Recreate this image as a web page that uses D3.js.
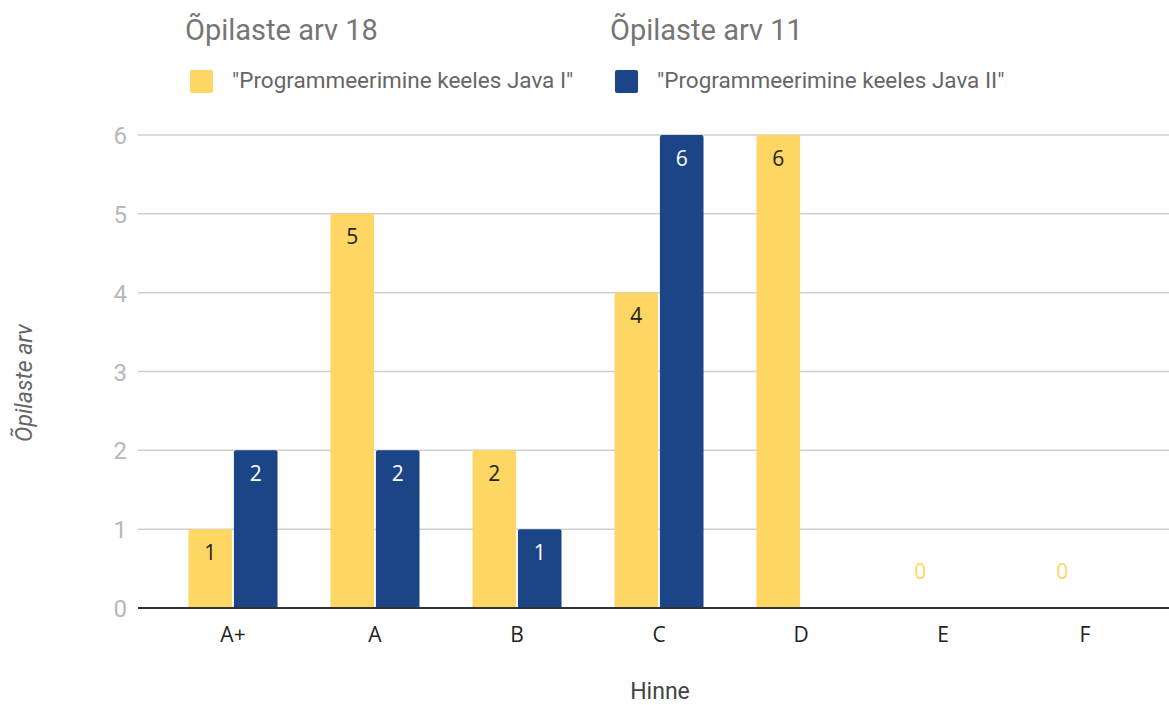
<!DOCTYPE html>
<html><head><meta charset="utf-8">
<script src="https://cdn.jsdelivr.net/npm/d3@7"></script>
<style>body{margin:0;background:#fff;} text{font-family:Roboto,"Noto Sans",sans-serif;}</style>
</head><body><svg id="c" width="1169" height="705"></svg>
<script>
const categories = ["A+","A","B","C","D","E","F"];
const seriesNames = ['"Programmeerimine keeles Java I"','"Programmeerimine keeles Java II"'];
const seriesTitles = ["Õpilaste arv 18","Õpilaste arv 11"];
const java1 = [1,5,2,4,6,0,0];
const java2 = [2,2,1,6,null,null,null];
const yTicks = [0,1,2,3,4,5,6];
const colors = ["#fdd663","#1c4587"];
const labelColors = ["#222","#fff"];

const svg = d3.select("#c");
const x = d3.scaleBand().domain(categories).range([162,1156]).paddingInner(0.373).paddingOuter(0.1865);
const xs = d3.scaleBand().domain([0,1]).range([0,x.bandwidth()]).paddingInner(0.04);
const y = d3.scaleLinear().domain([0,6]).range([608,135]);

// gridlines
svg.append("g").selectAll("line").data(yTicks.filter(d=>d>0)).join("line")
  .attr("x1",138).attr("x2",1169).attr("y1",d=>y(d)).attr("y2",d=>y(d))
  .attr("stroke","#cfcfcf").attr("stroke-width",1.5);

// y axis labels
const yAxis = d3.axisLeft(y).tickValues(yTicks).tickFormat(d3.format("d")).tickSize(0).tickPadding(0);
const ya = svg.append("g").attr("transform","translate(127,0)").call(yAxis);
ya.select(".domain").remove();
ya.selectAll("text").attr("fill","#b7b7b7").style("font-size","24px").style("font-family","Roboto").attr("dy","0.36em");

// bars
const series = [java1, java2];
series.forEach((vals, si) => {
  const g = svg.append("g");
  const data = categories.map((c,i)=>({c, v: vals[i]})).filter(d=>d.v!==null);
  g.selectAll("path").data(data.filter(d=>d.v>0)).join("path")
    .attr("fill", colors[si])
    .attr("d", d => {
      const x0 = x(d.c)+xs(si), w = xs.bandwidth(), y0 = y(d.v), y1 = y(0), r=2;
      return `M${x0},${y1}V${y0+r}Q${x0},${y0} ${x0+r},${y0}H${x0+w-r}Q${x0+w},${y0} ${x0+w},${y0+r}V${y1}Z`;
    });
  g.selectAll("text").data(data).join("text")
    .attr("x", d => x(d.c)+xs(si)+xs.bandwidth()/2)
    .attr("y", d => d.v>0 ? y(d.v)+23 : y(0)-37)
    .attr("dy","0.36em").attr("text-anchor","middle")
    .attr("fill", d => d.v>0 ? labelColors[si] : colors[si])
    .style("font-size","21px").style("font-family","'Open Sans',sans-serif")
    .text(d => d.v);
});

// baseline
svg.append("line").attr("x1",138).attr("x2",1169).attr("y1",y(0)).attr("y2",y(0))
  .attr("stroke","#333").attr("stroke-width",2);

// x axis
const xAxis = d3.axisBottom(x).tickSize(0).tickPadding(0);
const xa = svg.append("g").attr("transform",`translate(0,${y(0)+26})`).call(xAxis);
xa.select(".domain").remove();
xa.selectAll("text").attr("fill","#222").style("font-size","21px").style("font-family","'Open Sans',sans-serif").attr("dy","0.36em");

// axis titles
svg.append("text").attr("x",660).attr("y",691).attr("dy","0.36em").attr("text-anchor","middle")
  .attr("fill","#444").style("font-size","23px").text("Hinne");
svg.append("text").attr("transform","translate(24,383) rotate(-90)").attr("dy","0.36em")
  .attr("text-anchor","middle").attr("fill","#666").style("font-size","23px").style("font-style","italic")
  .text("Õpilaste arv");

// legend with titles
const legX = [185, 610];
seriesNames.forEach((n,i)=>{
  svg.append("text").attr("x",legX[i]).attr("y",30).attr("dy","0.36em")
    .attr("fill","#757575").style("font-size","29px").text(seriesTitles[i]);
  svg.append("rect").attr("x",legX[i]+5).attr("y",70).attr("width",23).attr("height",23).attr("rx",2)
    .attr("fill",colors[i]);
  svg.append("text").attr("x",legX[i]+47).attr("y",80).attr("dy","0.36em")
    .attr("fill","#666").style("font-size","22.5px").text(n);
});
</script></body></html>
